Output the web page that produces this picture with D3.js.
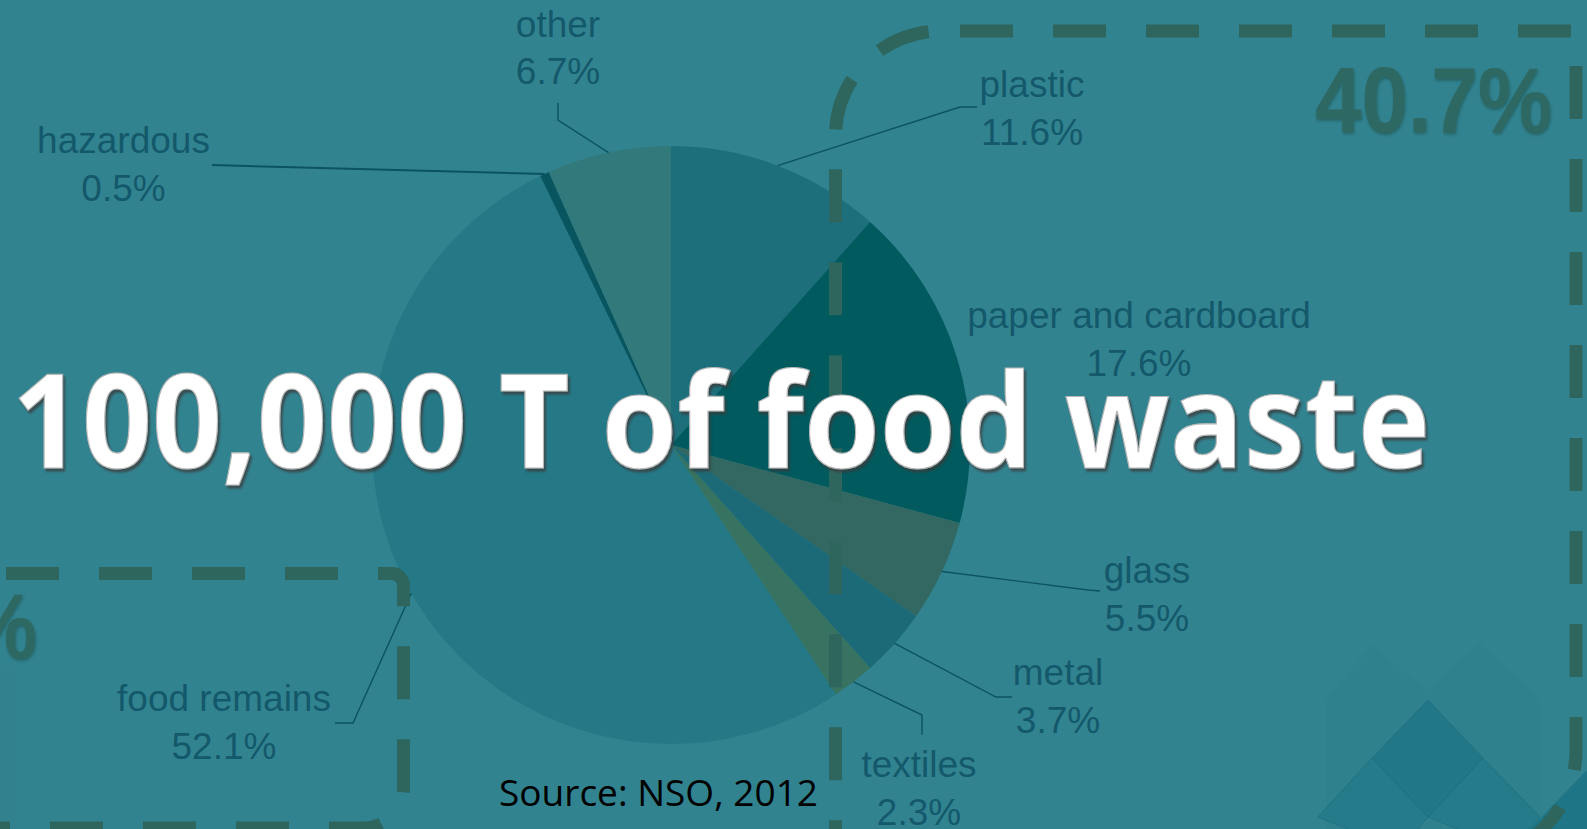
<!DOCTYPE html>
<html>
<head>
<meta charset="utf-8">
<script src="https://cdn.jsdelivr.net/npm/d3@7"></script>
<style>
  html, body { margin: 0; padding: 0; background: #328390; overflow: hidden; }
  svg { display: block; }
</style>
</head>
<body>
<svg id="chart" width="1587" height="829"></svg>
<script>
// ---- data ----
const categories = ["plastic", "paper and cardboard", "glass", "metal", "textiles", "food remains", "hazardous", "other"];
const shares = [11.6, 17.6, 5.5, 3.7, 2.3, 52.1, 0.5, 6.7];
const percentLabels = ["11.6%", "17.6%", "5.5%", "3.7%", "2.3%", "52.1%", "0.5%", "6.7%"];
const titleText = "100,000 T of food waste";
const sourceText = "Source: NSO, 2012";
const bigFigure = "40.7%";
const bigFigureLeft = "59.3%";

// ---- styles / layout ----
const W = 1587, H = 829;
const cx = 671, cy = 445, R = 299;
const sliceColors = ["#1d6f7c", "#005a5e", "#336862", "#1c6a78", "#387361", "#257886", "#08545f", "#32797b"];
const labelColor = "#14596b";
const lineColor = "#0c5361";
const dashColor = "#2e665e";
const labelLayout = [
  {x: 1032, y: 97,  pts: [[960, 107], [977, 107]]},
  {x: 1139, y: 328, pts: null},
  {x: 1147, y: 583, pts: [[1088, 590], [1100, 591]]},
  {x: 1058, y: 685, pts: [[996, 697], [1012, 697]]},
  {x: 919,  y: 777, pts: [[922, 715], [922, 735]]},
  {x: 224,  y: 711, pts: [[353, 723], [335, 723]]},
  {x: 123.5,y: 153, pts: [[212, 165]]},
  {x: 558,  y: 36.5,pts: [[558, 120], [558, 103]]}
];
const lineGap = 47.5;

const svg = d3.select("#chart");
const defs = svg.append("defs");

const f = defs.append("filter").attr("id", "tshadow").attr("x", "-5%").attr("y", "-20%").attr("width", "110%").attr("height", "140%");
f.append("feGaussianBlur").attr("in", "SourceAlpha").attr("stdDeviation", 1.2).attr("result", "b");
f.append("feOffset").attr("in", "b").attr("dx", 1.5).attr("dy", 2.5).attr("result", "o");
f.append("feFlood").attr("flood-color", "#3a3a3a").attr("flood-opacity", 0.75);
f.append("feComposite").attr("in2", "o").attr("operator", "in").attr("result", "s");
const fm = f.append("feMerge");
fm.append("feMergeNode").attr("in", "s");
fm.append("feMergeNode").attr("in", "SourceGraphic");

const f2 = defs.append("filter").attr("id", "fshadow");
f2.append("feGaussianBlur").attr("in", "SourceAlpha").attr("stdDeviation", 1.5).attr("result", "b");
f2.append("feOffset").attr("in", "b").attr("dx", 1).attr("dy", 2).attr("result", "o");
f2.append("feFlood").attr("flood-color", "#1d4f4a").attr("flood-opacity", 0.6);
f2.append("feComposite").attr("in2", "o").attr("operator", "in").attr("result", "s");
const fm2 = f2.append("feMerge");
fm2.append("feMergeNode").attr("in", "s");
fm2.append("feMergeNode").attr("in", "SourceGraphic");

// background
svg.append("rect").attr("width", W).attr("height", H).attr("fill", "#328390");

// decorative diamond pattern (bottom right)
const deco = svg.append("g");
deco.append("path")
  .attr("d", "M1326,829 L1326,700 L1372,645 L1427,690 L1480,643 L1540,700 L1540,829 Z")
  .attr("fill", "#2f808d").attr("opacity", 0.7);
const diamonds = [
  [[1428, 700], [1483, 758], [1428, 817], [1372, 758]],
  [[1372, 758], [1428, 817], [1400, 850], [1318, 817]],
  [[1483, 758], [1540, 817], [1510, 850], [1428, 817]]
];
diamonds.forEach((d, i) => {
  deco.append("polygon").attr("points", d.map(p => p.join(",")).join(" "))
    .attr("fill", i === 0 ? "#1f7685" : "#247b8a").attr("stroke", "#1c7080").attr("stroke-width", 1).attr("opacity", 0.85);
});
deco.append("polygon").attr("points", "1587,770 1587,829 1530,829").attr("fill", "#1e7585");
deco.append("rect").attr("x", 0).attr("y", 667).attr("width", 17).attr("height", 162).attr("fill", "#2f7f8c").attr("opacity", 0.5);

// pie
const pie = d3.pie().sort(null).value(d => d);
const arcs = pie(shares);
const arc = d3.arc().innerRadius(0).outerRadius(R);
const edgeArc = d3.arc().innerRadius(R).outerRadius(R);
const g = svg.append("g").attr("transform", `translate(${cx},${cy})`);
g.selectAll("path.slice").data(arcs).enter().append("path")
  .attr("class", "slice")
  .attr("d", arc)
  .attr("fill", (d, i) => sliceColors[i]);

// leader lines
const lines = svg.append("g");
arcs.forEach((d, i) => {
  const L = labelLayout[i];
  if (!L.pts) return;
  const c = edgeArc.centroid(d);
  const pts = [[cx + c[0], cy + c[1]]].concat(L.pts);
  lines.append("path")
    .attr("d", d3.line()(pts))
    .attr("fill", "none")
    .attr("stroke", lineColor)
    .attr("stroke-width", i === 6 ? 2 : 1.4);
});

// labels
const labels = svg.append("g")
  .attr("font-family", "'Liberation Sans', Arial, sans-serif")
  .attr("font-size", 37)
  .attr("fill", labelColor)
  .attr("text-anchor", "middle");
categories.forEach((c, i) => {
  const L = labelLayout[i];
  labels.append("text").attr("x", L.x).attr("y", L.y).text(c);
  labels.append("text").attr("x", L.x).attr("y", L.y + lineGap).text(percentLabels[i]);
});

// dashed boxes
const dash = svg.append("g").attr("fill", "none").attr("stroke", dashColor).attr("stroke-width", 13)
  .attr("stroke-dasharray", "53 40");
const pA = d3.path();
pA.moveTo(960, 31);
pA.lineTo(1576, 31);
pA.lineTo(1576, 750);
pA.arcTo(1576, 860, 1466, 860, 110);
pA.lineTo(1200, 860);
dash.append("path").attr("d", pA.toString());
const rTL = 105;
const pB = d3.path();
pB.moveTo(835.5 + rTL, 31);
pB.arcTo(835.5, 31, 835.5, 31 + rTL, rTL);
pB.lineTo(835.5, 900);
dash.append("path").attr("d", pB.toString()).attr("stroke-dashoffset", -12);
const pC = d3.path();
pC.moveTo(-87, 573.5);
pC.arcTo(403.5, 573.5, 403.5, 603.5, 12);
pC.arcTo(403.5, 828, 363.5, 828, 40);
pC.lineTo(-100, 828);
dash.append("path").attr("d", pC.toString());

// big figures
svg.append("text").attr("x", 1315).attr("y", 132)
  .attr("font-family", "'Liberation Sans', Arial, sans-serif").attr("font-weight", "bold")
  .attr("font-size", 92).attr("fill", "#2f6862")
  .attr("textLength", 237).attr("lengthAdjust", "spacingAndGlyphs")
  .attr("filter", "url(#fshadow)")
  .text(bigFigure);
svg.append("text").attr("x", 37).attr("y", 658).attr("text-anchor", "end")
  .attr("font-family", "'Liberation Sans', Arial, sans-serif").attr("font-weight", "bold")
  .attr("font-size", 92).attr("fill", "#2f6862")
  .attr("textLength", 237).attr("lengthAdjust", "spacingAndGlyphs")
  .attr("filter", "url(#fshadow)")
  .text(bigFigureLeft);

// title
svg.append("text").attr("x", 12).attr("y", 468)
  .attr("font-family", "'Open Sans', 'Noto Sans', sans-serif").attr("font-weight", "bold")
  .attr("font-size", 131).attr("fill", "#ffffff")
  .attr("stroke", "#b8b8b8").attr("stroke-width", 1.2)
  .attr("textLength", 1418).attr("lengthAdjust", "spacingAndGlyphs")
  .attr("filter", "url(#tshadow)")
  .text(titleText);

// source
svg.append("text").attr("x", 499).attr("y", 806)
  .attr("font-family", "'Open Sans', 'Noto Sans', sans-serif")
  .attr("font-size", 37).attr("fill", "#000000")
  .attr("textLength", 319).attr("lengthAdjust", "spacingAndGlyphs")
  .text(sourceText);
</script>
</body>
</html>
